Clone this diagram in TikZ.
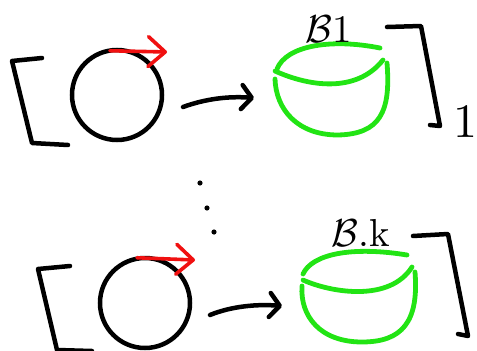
\documentclass[tikz,border=0pt]{standalone}
\usetikzlibrary{arrows.meta,calc}
\definecolor{bowlgreen}{RGB}{34,228,20}
\definecolor{spinred}{RGB}{240,16,16}
\newcommand{\bowllabel}[1]{\scalebox{3.9}{#1}}
\begin{document}
\begin{tikzpicture}[x=1pt,y=-1pt,
  ink/.style={line width=4.5pt,line cap=round,line join=round},
  wheel/.style={circle,draw,line width=4.5pt,minimum size=90pt,inner sep=0pt},
  holder/.style={inner sep=0pt,minimum width=115pt,minimum height=95pt},
  rim/.style={draw=bowlgreen,line width=4.8pt,line cap=round,line join=round},
  spin/.style={draw=spinred,line width=3.6pt,line cap=round,
    -{Straight Barb[length=17pt,width=30pt,round]}},
  maps/.style={ink,-{Straight Barb[length=10pt,width=24pt,round]}},
  lbl/.style={inner sep=0pt}]
\useasboundingbox (0,0) rectangle (477,351);

% ---------- first factor ----------
\draw[ink] (42,58) -- (12,61) -- (32,143) -- (68,145);
\node[wheel] (c1) at (117,95) {};
\coordinate (r1) at (167,52);
\draw[spin] ($(c1.north)+(-7,3)$) -- (r1);
\node[holder] (b1) at (331,88) {};
% bowl: back rim, front rim, body
\draw[rim] (277,69) .. controls (286,46) and (330,38) .. (380,48);
\draw[rim] (275,71) .. controls (308,86) and (356,94) .. (383,60);
\draw[rim] (387,63) .. controls (391,112) and (380,134) .. (338,135)
  .. controls (298,135) and (276,110) .. (275,79);
\node[lbl] (l1) at (329,29) {\bowllabel{$\mathcal{B}$1}};
\coordinate (a1s) at (183,107);
\coordinate (a1e) at (254,98);
\draw[maps] (a1s) .. controls (205,99) and (228,96) .. (a1e);
\draw[ink] (387,27) -- (421,26) -- (440,126) -- (430,125);
\node[lbl] (n1) at (465,122) {\scalebox{4.8}{1}};

% ---------- dots ----------
\fill (200,183) circle (2.6);
\fill (207,208) circle (2.6);
\fill (214,232) circle (2.6);

% ---------- k-th factor ----------
\draw[ink] (70,266) -- (38,269) -- (57,350) -- (92,351);
\node[wheel] (c2) at (145,303) {};
\coordinate (r2) at (195,260);
\draw[spin] ($(c2.north)+(-8,2)$) -- (r2);
\node[holder] (b2) at (359,297) {};
\draw[rim] (303,274) .. controls (312,254) and (352,246) .. (407,255);
\draw[rim] (303,280) .. controls (332,293) and (390,302) .. (412,267);
\draw[rim] (415,272) .. controls (419,322) and (402,342) .. (362,342)
  .. controls (320,342) and (300,316) .. (302,286);
\node[lbl] (l2) at (361,233) {\bowllabel{$\mathcal{B}$.k}};
\coordinate (a2s) at (210,315);
\coordinate (a2e) at (282,306);
\draw[maps] (a2s) .. controls (232,306) and (258,304) .. (a2e);
\draw[ink] (413,236) -- (448,234) -- (468,336) -- (458,334);
\end{tikzpicture}
\end{document}
